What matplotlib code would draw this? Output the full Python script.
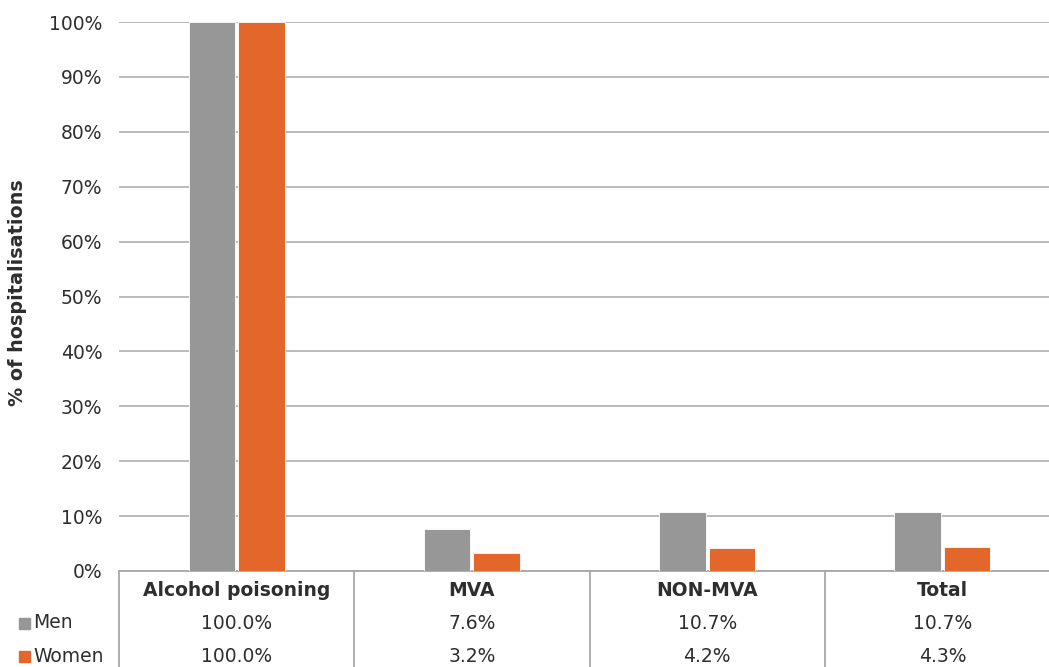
import matplotlib.pyplot as plt
import numpy as np

plt.rcParams['font.family'] = ['DejaVu Sans']

categories = ['Alcohol poisoning', 'MVA', 'NON-MVA', 'Total']
men = np.array([100.0, 7.6, 10.7, 10.7])
women = np.array([100.0, 3.2, 4.2, 4.3])
men_labels = ['100.0%', '7.6%', '10.7%', '10.7%']
women_labels = ['100.0%', '3.2%', '4.2%', '4.3%']

grey = '#979797'
orange = '#e3672a'
line_col = '#a8a8a8'
text_col = '#2e2e2e'
fs = 13.5

fig = plt.figure(figsize=(10.49, 6.67), dpi=100)
ax = fig.add_axes([119 / 1049, 96 / 667, 941 / 1049, 549 / 667])

x = np.arange(len(categories))
w = 0.198
ax.bar(x - 0.105, men, width=w, color=grey, edgecolor='white', linewidth=0.6, zorder=3)
ax.bar(x + 0.105, women, width=w, color=orange, edgecolor='white', linewidth=0.6, zorder=3)

ax.set_xlim(-0.5, 3.5)
ax.set_ylim(0, 100)
ax.set_yticks(np.arange(0, 101, 10))
ax.set_yticklabels([f'{v}%' for v in range(0, 101, 10)], fontsize=fs, color=text_col)
ax.tick_params(axis='y', length=0, pad=12)
ax.set_xticks([])
ax.grid(axis='y', color=line_col, linewidth=1.1, zorder=0)
for s in ['top', 'right', 'left']:
    ax.spines[s].set_visible(False)
ax.spines['bottom'].set_color(line_col)
ax.spines['bottom'].set_linewidth(1.3)

# data table under the chart
tr = ax.get_xaxis_transform()
for xv in np.arange(-0.5, 4.0, 1.0):
    ax.plot([xv, xv], [0, -0.2], color=line_col, linewidth=1.3, transform=tr, clip_on=False)
for i, c in enumerate(categories):
    ax.text(i, -0.035, c, transform=tr, ha='center', va='center', fontsize=fs,
            fontweight='bold', color=text_col)
    ax.text(i, -0.095, men_labels[i], transform=tr, ha='center', va='center',
            fontsize=fs, color=text_col)
    ax.text(i, -0.155, women_labels[i], transform=tr, ha='center', va='center',
            fontsize=fs, color=text_col)

# legend keys in the table
for yy, col, lab in [(623, grey, 'Men'), (656, orange, 'Women')]:
    fig.patches.append(plt.Rectangle((19 / 1049, (667 - yy - 6) / 667), 11 / 1049, 11 / 667,
                                     color=col, transform=fig.transFigure))
    fig.text(33 / 1049, (667 - yy) / 667, lab, ha='left', va='center', fontsize=fs,
             color=text_col)

fig.text(18 / 1049, (667 - 293) / 667, '% of hospitalisations', rotation=90,
         ha='center', va='center', fontsize=13.8, fontweight='bold', color=text_col)

fig.savefig('out.png', dpi=100)
